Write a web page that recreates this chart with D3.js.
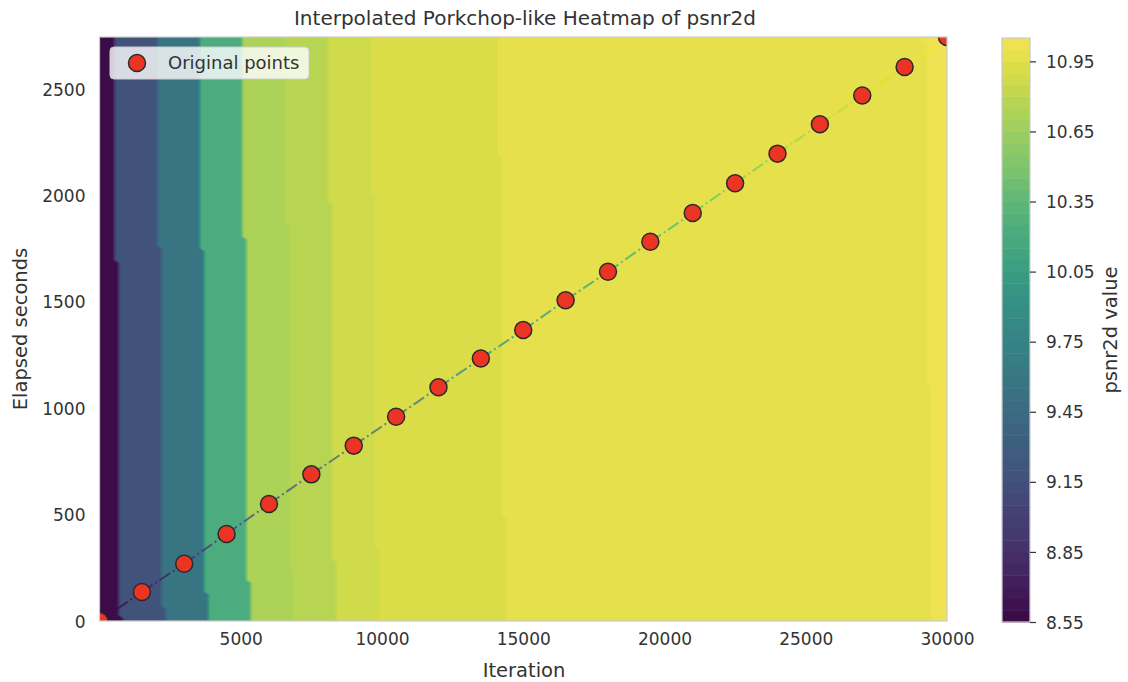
<!DOCTYPE html>
<html>
<head>
<meta charset="utf-8">
<script src="https://cdn.jsdelivr.net/npm/d3@7"></script>
<style>
  body { margin: 0; background: #ffffff; }
  text { font-family: "DejaVu Sans", sans-serif; fill: #333333; }
</style>
</head>
<body>
<svg id="chart" width="1128" height="682"></svg>
<script>
// ---------------- data ----------------
const iterations = [1, 1500, 3000, 4500, 6000, 7500, 9000, 10500, 12000, 13500, 15000,
  16500, 18000, 19500, 21000, 22500, 24000, 25500, 27000, 28500, 30000];
const elapsedSeconds = [0, 136, 269, 409, 550, 689, 824, 960, 1098, 1233, 1367,
  1507, 1641, 1782, 1917, 2057, 2196, 2334, 2469, 2603, 2744];
const psnr2d = [8.57, 9.17, 9.57, 10.22, 10.72, 10.78, 10.87, 10.91, 10.92, 10.94, 10.96,
  10.97, 10.97, 10.98, 10.98, 10.98, 10.99, 10.99, 10.99, 10.99, 11.03];
const xTickValues = [5000, 10000, 15000, 20000, 25000, 30000];
const yTickValues = [0, 500, 1000, 1500, 2000, 2500];
const colorbarTicks = [8.55, 8.85, 9.15, 9.45, 9.75, 10.05, 10.35, 10.65, 10.95];
const levelStart = 8.55, levelEnd = 11.05, levelCount = 50;
const gridSize = 200;

// ---------------- layout ----------------
const svg = d3.select("#chart");
const plot = { left: 99.5, right: 947, top: 37, bottom: 621 };
const cbar = { left: 1002, right: 1030, top: 38, bottom: 622 };

const levels = d3.range(levelCount + 1).map(i => +(levelStart + i * (levelEnd - levelStart) / levelCount).toFixed(4));
const norm = d3.scaleLinear().domain([levelStart, levelEnd]).range([0, 1]);
function muted(c, s) {
  const r = d3.rgb(c);
  const L = 0.3 * r.r + 0.59 * r.g + 0.11 * r.b;
  return d3.rgb(r.r + s * (L - r.r), r.g + s * (L - r.g), r.b + s * (L - r.b)).formatHex();
}
const bandColor = k => muted(d3.interpolateViridis(norm((levels[k] + levels[k + 1]) / 2)), 0.27);

const xMin = d3.min(iterations), xMax = d3.max(iterations);
const yMin = d3.min(elapsedSeconds), yMax = d3.max(elapsedSeconds);
const x = d3.scaleLinear().domain([xMin, xMax]).range([plot.left, plot.right]);
const y = d3.scaleLinear().domain([yMin, yMax]).range([plot.bottom, plot.top]);

svg.append("defs").append("clipPath").attr("id", "plotclip")
  .append("rect").attr("x", plot.left).attr("y", plot.top)
  .attr("width", plot.right - plot.left).attr("height", plot.bottom - plot.top);

// ---------------- nearest-neighbour grid + filled contours ----------------
const sx = (xMax - xMin) / (gridSize - 1), sy = (yMax - yMin) / (gridSize - 1);
const values = new Float64Array(gridSize * gridSize);
for (let j = 0; j < gridSize; j++) {
  const gy = yMin + j * sy;
  for (let i = 0; i < gridSize; i++) {
    const gx = xMin + i * sx;
    let best = Infinity, bv = 0;
    for (let p = 0; p < iterations.length; p++) {
      const dx = gx - iterations[p], dy = gy - elapsedSeconds[p];
      const d = dx * dx + dy * dy;
      if (d < best) { best = d; bv = psnr2d[p]; }
    }
    values[j * gridSize + i] = bv;
  }
}
const contours = d3.contours().size([gridSize, gridSize]).thresholds(levels.slice(0, -1))(values);
const proj = d3.geoTransform({
  point: function(px, py) {
    this.stream.point(x(xMin + (px - 0.5) * sx), y(yMin + (py - 0.5) * sy));
  }
});
const path = d3.geoPath(proj);
const gHeat = svg.append("g").attr("clip-path", "url(#plotclip)");
gHeat.selectAll("path").data(contours).join("path")
  .attr("d", path)
  .attr("fill", (d, k) => bandColor(k))
  .attr("stroke", "none");

// ---------------- connecting line (dash-dot, coloured segments) ----------------
const gLine = svg.append("g").attr("clip-path", "url(#plotclip)");
const segs = d3.range(iterations.length - 1);
gLine.selectAll("line").data(segs).join("line")
  .attr("x1", i => x(iterations[i])).attr("y1", i => y(elapsedSeconds[i]))
  .attr("x2", i => x(iterations[i + 1])).attr("y2", i => y(elapsedSeconds[i + 1]))
  .attr("stroke", i => d3.interpolateViridis(i / (segs.length - 1)))
  .attr("stroke-width", 2)
  .attr("stroke-opacity", 0.7)
  .attr("stroke-dasharray", "12.8,3.2,2,3.2");

// ---------------- points ----------------
const gPts = svg.append("g").attr("clip-path", "url(#plotclip)");
gPts.selectAll("circle").data(iterations).join("circle")
  .attr("cx", (d) => x(d))
  .attr("cy", (d, i) => y(elapsedSeconds[i]))
  .attr("r", 8.5)
  .attr("fill", "#ec3425")
  .attr("stroke", "#2a2a2a")
  .attr("stroke-width", 1.5);

svg.append("rect").attr("x", plot.left).attr("y", plot.top)
  .attr("width", plot.right - plot.left).attr("height", plot.bottom - plot.top)
  .attr("fill", "none").attr("stroke", "#cccccc").attr("stroke-width", 1.25);

// ---------------- axes ----------------
const xAxis = svg.append("g").attr("transform", `translate(0,${plot.bottom})`)
  .call(d3.axisBottom(x).tickValues(xTickValues).tickSize(0).tickPadding(0).tickFormat(d3.format("d")));
xAxis.select(".domain").remove();
xAxis.selectAll("text").attr("font-size", 17).attr("y", 24).attr("dy", null).style("fill", "#333");

const yAxis = svg.append("g").attr("transform", `translate(${plot.left},0)`)
  .call(d3.axisLeft(y).tickValues(yTickValues).tickSize(0).tickPadding(0).tickFormat(d3.format("d")));
yAxis.select(".domain").remove();
yAxis.selectAll("text").attr("font-size", 17).attr("x", -14).attr("dy", "0.36em").style("fill", "#333");

svg.append("text").attr("x", 525).attr("y", 25).attr("text-anchor", "middle")
  .attr("font-size", 20).text("Interpolated Porkchop-like Heatmap of psnr2d");
svg.append("text").attr("x", 524).attr("y", 677).attr("text-anchor", "middle")
  .attr("font-size", 19.5).text("Iteration");
svg.append("text").attr("transform", "translate(27,329) rotate(-90)").attr("text-anchor", "middle")
  .attr("font-size", 19.5).text("Elapsed seconds");

// ---------------- legend ----------------
const gLeg = svg.append("g");
gLeg.append("rect").attr("x", 110).attr("y", 47).attr("width", 199).attr("height", 32)
  .attr("rx", 4).attr("fill", "#ffffff").attr("fill-opacity", 0.8)
  .attr("stroke", "#cccccc").attr("stroke-width", 1);
gLeg.append("circle").attr("cx", 137).attr("cy", 63).attr("r", 8.5)
  .attr("fill", "#ec3425").attr("stroke", "#2a2a2a").attr("stroke-width", 1.5);
gLeg.append("text").attr("x", 168).attr("y", 63).attr("dy", "0.36em")
  .attr("font-size", 18).text("Original points");

// ---------------- colorbar ----------------
const cy = d3.scaleLinear().domain([levelStart, levelEnd]).range([cbar.bottom, cbar.top]);
const gCb = svg.append("g");
gCb.selectAll("rect").data(d3.range(levelCount)).join("rect")
  .attr("x", cbar.left).attr("width", cbar.right - cbar.left)
  .attr("y", k => cy(levels[k + 1]))
  .attr("height", k => cy(levels[k]) - cy(levels[k + 1]) + 0.5)
  .attr("fill", k => bandColor(k));
gCb.append("rect").attr("x", cbar.left).attr("y", cbar.top)
  .attr("width", cbar.right - cbar.left).attr("height", cbar.bottom - cbar.top)
  .attr("fill", "none").attr("stroke", "#cccccc").attr("stroke-width", 1.25);
const cAxis = svg.append("g").attr("transform", `translate(${cbar.right},0)`)
  .call(d3.axisRight(cy).tickValues(colorbarTicks).tickSize(6).tickPadding(10).tickFormat(d3.format(".2f")));
cAxis.select(".domain").remove();
cAxis.selectAll("line").attr("stroke", "#333").attr("stroke-width", 1.2);
cAxis.selectAll("text").attr("font-size", 17).attr("dy", "0.36em").style("fill", "#333");
svg.append("text").attr("transform", "translate(1117,330) rotate(-90)").attr("text-anchor", "middle")
  .attr("font-size", 19.5).text("psnr2d value");
</script>
</body>
</html>
